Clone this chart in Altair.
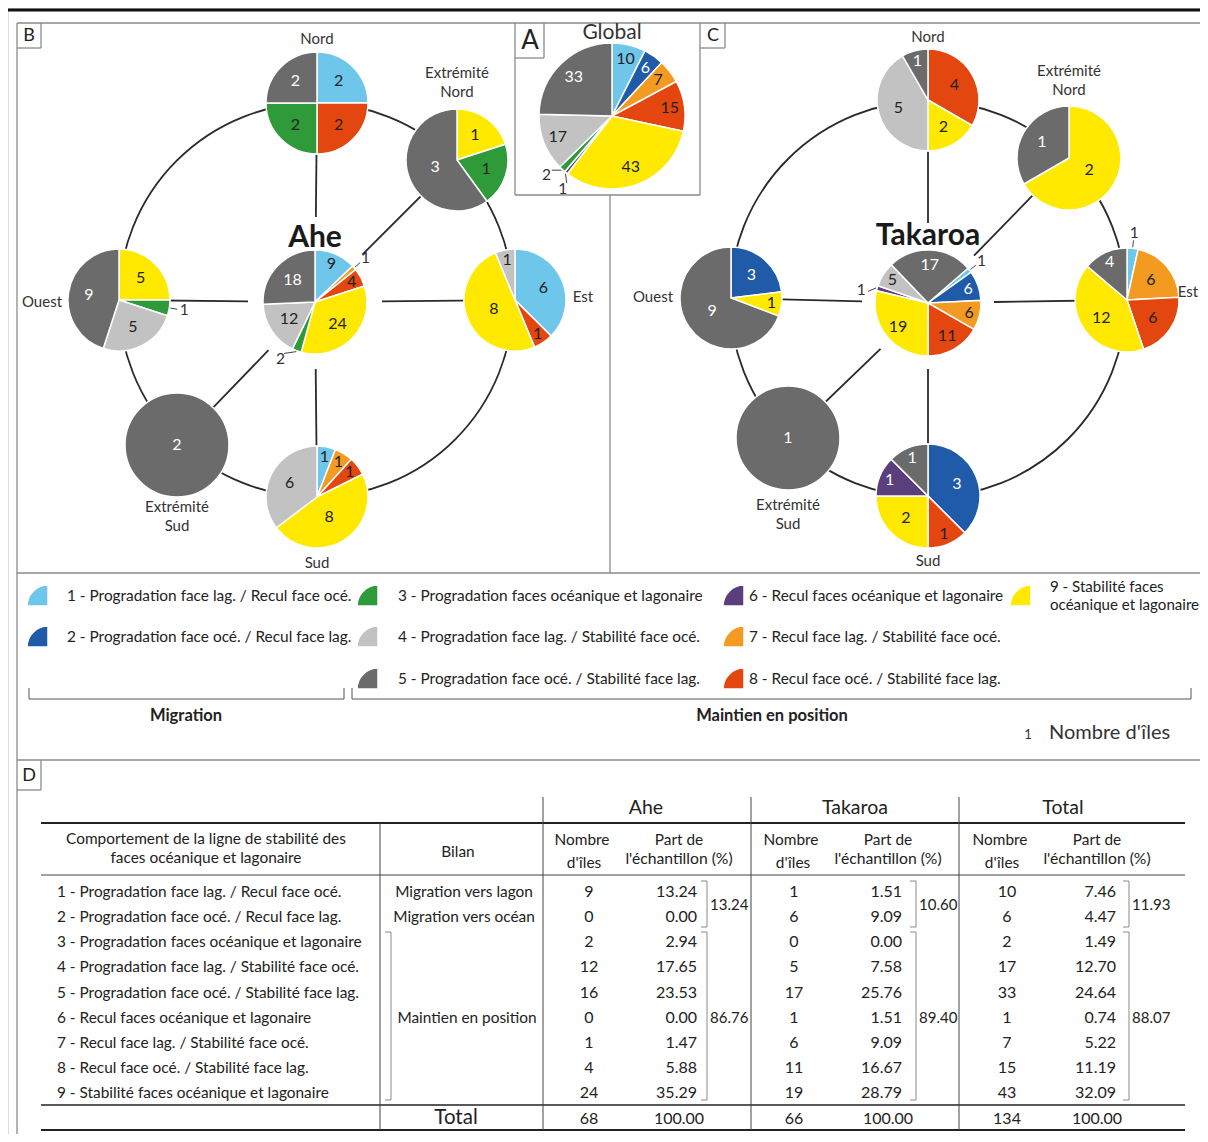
import math
import altair as alt
import pandas as pd

FONT = "Lato"
W, H = 1192, 1126

# ------------------------------------------------------------------ data
CATEGORY_NAMES = [
    "1 - Progradation face lag. / Recul face océ.",
    "2 - Progradation face océ. / Recul face lag.",
    "3 - Progradation faces océanique et lagonaire",
    "4 - Progradation face lag. / Stabilité face océ.",
    "5 - Progradation face océ. / Stabilité face lag.",
    "6 - Recul faces océanique et lagonaire",
    "7 - Recul face lag. / Stabilité face océ.",
    "8 - Recul face océ. / Stabilité face lag.",
    "9 - Stabilité faces océanique et lagonaire",
]
CATEGORY_COLORS = ["#6ec6ea", "#1f5ba8", "#2e9a3a", "#c2c2c2", "#6b6b6b",
                   "#5a3f7c", "#f29b20", "#e3470f", "#ffe900"]
WHITE_TEXT_CATS = {2, 5, 6}

GLOBAL_CATS = [1, 2, 7, 8, 9, 6, 3, 4, 5]
GLOBAL_VALUES = [10, 6, 7, 15, 43, 1, 2, 17, 33]

AHE_CENTRE_CATS = [1, 7, 8, 9, 3, 4, 5]
AHE_CENTRE_VALUES = [9, 1, 4, 24, 2, 12, 18]
AHE_NORD_CATS = [1, 8, 3, 5]
AHE_NORD_VALUES = [2, 2, 2, 2]
AHE_EXTN_CATS = [9, 3, 5]
AHE_EXTN_VALUES = [1, 1, 3]
AHE_EST_CATS = [1, 8, 9, 4]
AHE_EST_VALUES = [6, 1, 8, 1]
AHE_SUD_CATS = [1, 7, 8, 9, 4]
AHE_SUD_VALUES = [1, 1, 1, 8, 6]
AHE_EXTS_CATS = [5]
AHE_EXTS_VALUES = [2]
AHE_OUEST_CATS = [9, 3, 4, 5]
AHE_OUEST_VALUES = [5, 1, 5, 9]

TAK_CENTRE_CATS = [1, 2, 7, 8, 9, 6, 4, 5]
TAK_CENTRE_VALUES = [1, 6, 6, 11, 19, 1, 5, 17]
TAK_NORD_CATS = [8, 9, 4, 5]
TAK_NORD_VALUES = [4, 2, 5, 1]
TAK_EXTN_CATS = [9, 5]
TAK_EXTN_VALUES = [2, 1]
TAK_EST_CATS = [1, 7, 8, 9, 5]
TAK_EST_VALUES = [1, 6, 6, 12, 4]
TAK_SUD_CATS = [2, 8, 9, 6, 5]
TAK_SUD_VALUES = [3, 1, 2, 1, 1]
TAK_EXTS_CATS = [5]
TAK_EXTS_VALUES = [1]
TAK_OUEST_CATS = [2, 9, 5]
TAK_OUEST_VALUES = [3, 1, 9]

PIES = {
    "global": (GLOBAL_CATS, GLOBAL_VALUES),
    "ahe_c": (AHE_CENTRE_CATS, AHE_CENTRE_VALUES),
    "ahe_n": (AHE_NORD_CATS, AHE_NORD_VALUES),
    "ahe_en": (AHE_EXTN_CATS, AHE_EXTN_VALUES),
    "ahe_e": (AHE_EST_CATS, AHE_EST_VALUES),
    "ahe_s": (AHE_SUD_CATS, AHE_SUD_VALUES),
    "ahe_es": (AHE_EXTS_CATS, AHE_EXTS_VALUES),
    "ahe_o": (AHE_OUEST_CATS, AHE_OUEST_VALUES),
    "tak_c": (TAK_CENTRE_CATS, TAK_CENTRE_VALUES),
    "tak_n": (TAK_NORD_CATS, TAK_NORD_VALUES),
    "tak_en": (TAK_EXTN_CATS, TAK_EXTN_VALUES),
    "tak_e": (TAK_EST_CATS, TAK_EST_VALUES),
    "tak_s": (TAK_SUD_CATS, TAK_SUD_VALUES),
    "tak_es": (TAK_EXTS_CATS, TAK_EXTS_VALUES),
    "tak_o": (TAK_OUEST_CATS, TAK_OUEST_VALUES),
}

ATOLLS = ["Ahe", "Takaroa"]
PLACE_NAMES = ["Nord", "Extrémité\nNord", "Est", "Sud", "Extrémité\nSud", "Ouest"]

TABLE_GROUPS = ["Ahe", "Takaroa", "Total"]
BILAN = ["Migration vers lagon", "Migration vers océan", "Maintien en position"]
AHE_N = [9, 0, 2, 12, 16, 0, 1, 4, 24]
AHE_PCT = [13.24, 0.00, 2.94, 17.65, 23.53, 0.00, 1.47, 5.88, 35.29]
AHE_GROUP_PCT = [13.24, 86.76]
TAK_N = [1, 6, 0, 5, 17, 1, 6, 11, 19]
TAK_PCT = [1.51, 9.09, 0.00, 7.58, 25.76, 1.51, 9.09, 16.67, 28.79]
TAK_GROUP_PCT = [10.60, 89.40]
TOT_N = [10, 6, 2, 17, 33, 1, 7, 15, 43]
TOT_PCT = [7.46, 4.47, 1.49, 12.70, 24.64, 0.74, 5.22, 11.19, 32.09]
TOT_GROUP_PCT = [11.93, 88.07]
TOTAL_N = [68, 66, 134]
TOTAL_PCT = [100.00, 100.00, 100.00]

# ------------------------------------------------------------------ layout (page pixels)
PIE_LAYOUT = {  # cx, cy, radius, start angle (deg)
    "global": (612, 116, 73, 0),
    "ahe_c": (315, 302, 52, 0), "ahe_n": (317, 103, 51, 0), "ahe_en": (457, 160, 51, 0),
    "ahe_e": (515, 300, 51, 0), "ahe_s": (317, 497, 51, 0), "ahe_es": (177, 445, 52, 0),
    "ahe_o": (119, 300, 51, 0),
    "tak_c": (928, 303, 53, 49), "tak_n": (928, 100, 51, 0), "tak_en": (1069, 158, 52, 0),
    "tak_e": (1127, 300, 52, 0), "tak_s": (928, 496, 52, 0), "tak_es": (788, 438, 52, 0),
    "tak_o": (731, 298, 51, 0),
}
LABEL_FACTOR = {"global": (0.8, 0.75), "tak_c": (0.8, 0.72)}
OUTSIDE = {("ahe_c", 7): None, ("ahe_c", 3): 211, ("ahe_o", 3): None,
           ("tak_c", 1): None, ("tak_c", 6): 281, ("tak_e", 1): None,
           ("global", 6): 214, ("global", 3): 228}
HUBS = {"Ahe": ("ahe_c", (316, 300), 197, 238,
                [("ahe_n", 85), ("ahe_en", 67), ("ahe_e", 67), ("ahe_s", 67), ("ahe_es", 67), ("ahe_o", 67)]),
        "Takaroa": ("tak_c", (928, 299), 198, 236,
                    [("tak_n", 80), ("tak_en", 66), ("tak_e", 66), ("tak_s", 66), ("tak_es", 66), ("tak_o", 66)])}
PLACE_POS = {
    "Ahe": [(317, 39), (457, 73), (583, 297), (317, 563), (177, 507), (42, 302)],
    "Takaroa": [(928, 37), (1069, 71), (1188, 292), (928, 561), (788, 505), (653, 297)],
}

TXT = 15.4   # body text size
NUM = 16     # numbers in table / pies

XS = alt.Scale(domain=[8, 8 + W], nice=False, zero=False)
YS = alt.Scale(domain=[8, 8 + H], reverse=True, nice=False, zero=False)


def xy(xf="x", yf="y"):
    return dict(x=alt.X(f"{xf}:Q", scale=XS, axis=None),
                y=alt.Y(f"{yf}:Q", scale=YS, axis=None))


def polar(cx, cy, ang, d):
    a = math.radians(ang)
    return cx + d * math.sin(a), cy - d * math.cos(a)


texts = []   # x, y, t, s, c, align, weight
rules = []   # x, y, x2, y2, c, w
arcs = []    # x, y, t0, t1, r, col


def add_text(x, y, t, s=TXT, c="#222222", align="center", weight="normal"):
    texts.append(dict(x=x, y=y, t=str(t), s=s, c=c, align=align, weight=weight))


def add_rule(x, y, x2, y2, c="#8a8a8a", w=1.3):
    rules.append(dict(x=x, y=y, x2=x2, y2=y2, c=c, w=w))


# ---- pies
for pid, (cats, vals) in PIES.items():
    cx, cy, r, start = PIE_LAYOUT[pid]
    total = sum(vals)
    acc = 0
    for cat, v in zip(cats, vals):
        a0 = start + acc / total * 360
        acc += v
        a1 = start + acc / total * 360
        arcs.append(dict(x=cx, y=cy, t0=math.radians(a0), t1=math.radians(a1), r=r,
                         col=CATEGORY_COLORS[cat - 1]))
        span = a1 - a0
        mid = (a0 + a1) / 2
        if (pid, cat) in OUTSIDE:
            ang = OUTSIDE[(pid, cat)]
            ang = mid if ang is None else ang
            p1 = polar(cx, cy, mid, r + 1)
            p2 = polar(cx, cy, ang, r + 8)
            add_rule(p1[0], p1[1], p2[0], p2[1], c="#444444", w=1)
            lx, ly = polar(cx, cy, ang, r + 15)
            add_text(lx, ly, v, s=15.5, c="#333333")
            continue
        if len(vals) == 1:
            f = 0.0
        else:
            small, big = LABEL_FACTOR.get(pid, (0.8, 0.6))
            f = small if span < 50 else (big if span <= 165 else 0.45)
        lx, ly = polar(cx, cy, mid, r * f)
        add_text(lx, ly, v, s=NUM, c="#ffffff" if cat in WHITE_TEXT_CATS else "#222222")

# ---- hubs: big circles, spokes, titles, place names
circles = []
for name, (hub, (hx, hy), R, ty, spokes) in HUBS.items():
    circles.append(dict(x=hx, y=hy, s=(2 * R) ** 2))
    cx, cy = PIE_LAYOUT[hub][:2]
    for target, gap in spokes:
        tx, ty2 = PIE_LAYOUT[target][:2]
        d = math.hypot(tx - cx, ty2 - cy)
        ux, uy = (tx - cx) / d, (ty2 - cy) / d
        add_rule(cx + ux * gap, cy + uy * gap, tx, ty2, c="#2a2a2a", w=1.8)
    add_text(cx, ty, name, s=30, c="#1a1a1a", weight="bold")
    for label, (px, py) in zip(PLACE_NAMES, PLACE_POS[name]):
        for k, line in enumerate(label.split("\n")):
            add_text(px, py + 19 * k, line, s=15, c="#333333")

add_text(612, 33, "Global", s=21, c="#333333")

# ---- panel frames
add_rule(8, 10, 1200, 10, c="#111111", w=3)
add_rule(17, 23, 1202, 23)
add_rule(17, 23, 17, 1134)
add_rule(1202, 23, 1202, 760)
add_rule(515, 23, 515, 195)
add_rule(700, 23, 700, 195)
add_rule(515, 195, 700, 195)
add_rule(544, 23, 544, 58)
add_rule(515, 58, 544, 58)
add_rule(610, 195, 610, 573)
add_rule(41, 23, 41, 48)
add_rule(17, 48, 41, 48)
add_rule(725, 23, 725, 48)
add_rule(700, 48, 725, 48)
add_rule(17, 573, 1202, 573)
add_rule(17, 760, 1202, 760)
add_rule(41, 760, 41, 790)
add_rule(17, 790, 41, 790)
add_text(29, 36, "B", s=18, c="#222222")
add_text(530, 41, "A", s=26, c="#222222")
add_text(713, 36, "C", s=18, c="#222222")
add_text(29, 776, "D", s=18, c="#222222")

# ---- legend
LEGEND_SLOTS = {1: (0, 0), 2: (0, 1), 3: (1, 0), 4: (1, 1), 5: (1, 2),
                6: (2, 0), 7: (2, 1), 8: (2, 2), 9: (3, 0)}
SW_X = [48, 378, 744, 1031]
TX_X = [67, 398, 749, 1050]
ROW_Y = [596, 637, 679]
for cat, (col, row) in LEGEND_SLOTS.items():
    y = ROW_Y[row]
    arcs.append(dict(x=SW_X[col], y=y + 10, t0=1.5 * math.pi, t1=2 * math.pi, r=21,
                     col=CATEGORY_COLORS[cat - 1]))
    name = CATEGORY_NAMES[cat - 1]
    if cat == 9:
        words = name.split(" ")
        add_text(TX_X[col], y - 9, " ".join(words[:4]), s=15.1, align="left")
        add_text(TX_X[col], y + 9, " ".join(words[4:]), s=15.1, align="left")
    else:
        add_text(TX_X[col], y, name, align="left")

for x0, x1 in [(29, 344), (352, 1191)]:
    add_rule(x0, 699, x1, 699, c="#555555", w=1)
    add_rule(x0, 688, x0, 699, c="#555555", w=1)
    add_rule(x1, 688, x1, 699, c="#555555", w=1)
add_text(186, 716, "Migration", s=16.5, weight="bold")
add_text(772, 716, "Maintien en position", s=16.5, weight="bold")
add_text(1028, 735, "1", s=13, c="#333333")
add_text(1049, 733, "Nombre d'îles", s=20, c="#333333", align="left")

# ---- table
TL, TR = 41, 1185
ROWS_Y = [892 + 25.15 * i for i in range(9)]
add_rule(TL, 823, TR, 823, c="#222222", w=2.2)
add_rule(TL, 875, TR, 875, c="#444444", w=1)
add_rule(TL, 1105, TR, 1105, c="#222222", w=1.3)
add_rule(TL, 1130, TR, 1130, c="#222222", w=2.2)
add_rule(380, 823, 380, 1130, c="#444444", w=1)
for vx in [543, 751, 959]:
    add_rule(vx, 797, vx, 1130, c="#444444", w=1)

add_text(206, 839, "Comportement de la ligne de stabilité des")
add_text(206, 858, "faces océanique et lagonaire")
add_text(458, 852, "Bilan")
GROUP_X = [(646, 582, 589, 679, 697, 707), (855, 791, 794, 888, 902, 916), (1063, 1000, 1007, 1097, 1116, 1129)]
GROUP_N = [AHE_N, TAK_N, TOT_N]
GROUP_PCT = [AHE_PCT, TAK_PCT, TOT_PCT]
GROUP_SUB = [AHE_GROUP_PCT, TAK_GROUP_PCT, TOT_GROUP_PCT]
for g, (gx, nhx, nx, phx, px, bx) in enumerate(GROUP_X):
    add_text(gx, 808, TABLE_GROUPS[g], s=19.5)
    add_text(nhx, 840, "Nombre")
    add_text(nhx + 2, 863, "d'îles")
    add_text(phx, 840, "Part de")
    add_text(phx, 859, "l'échantillon (%)", s=15.7)
    for i in range(9):
        add_text(nx, ROWS_Y[i], GROUP_N[g][i], s=NUM)
        add_text(px, ROWS_Y[i], f"{GROUP_PCT[g][i]:.2f}", s=NUM, align="right")
    for (top, bot, ly), val in zip([(881, 927, (ROWS_Y[0] + ROWS_Y[1]) / 2), (932, 1100, ROWS_Y[5])],
                                   GROUP_SUB[g]):
        add_rule(bx, top, bx, bot, c="#8a8a8a", w=1)
        add_rule(bx - 6, top, bx, top, c="#8a8a8a", w=1)
        add_rule(bx - 6, bot, bx, bot, c="#8a8a8a", w=1)
        add_text(bx + 3, ly, f"{val:.2f}", s=15, align="left")
    add_text(nx, 1119, TOTAL_N[g], s=NUM)
    add_text(phx, 1119, f"{TOTAL_PCT[g]:.2f}", s=NUM)

for i, name in enumerate(CATEGORY_NAMES):
    add_text(57, ROWS_Y[i], name, align="left")
add_text(464, ROWS_Y[0], BILAN[0])
add_text(464, ROWS_Y[1], BILAN[1])
add_text(467, ROWS_Y[5], BILAN[2])
add_rule(391, 932, 391, 1100, c="#8a8a8a", w=1)
add_rule(385, 932, 391, 932, c="#8a8a8a", w=1)
add_rule(385, 1100, 391, 1100, c="#8a8a8a", w=1)
add_text(456, 1118, "Total", s=20.5)

# ------------------------------------------------------------------ chart
rules_df = pd.DataFrame(rules)
arcs_df = pd.DataFrame(arcs)
texts_df = pd.DataFrame(texts)
circles_df = pd.DataFrame(circles)

big_circles = alt.Chart(circles_df).mark_point(
    shape="circle", filled=False, opacity=1, color="#2a2a2a", strokeWidth=1.8
).encode(**xy(), size=alt.Size("s:Q", scale=None))

rule_layer = alt.Chart(rules_df).mark_rule().encode(
    **xy(), x2="x2:Q", y2="y2:Q",
    color=alt.Color("c:N", scale=None),
    strokeWidth=alt.StrokeWidth("w:Q", scale=None),
)

arc_layer = alt.Chart(arcs_df).mark_arc(stroke="white", strokeWidth=1.5).encode(
    **xy(),
    theta=alt.Theta("t0:Q", scale=None, stack=None),
    theta2="t1:Q",
    radius=alt.Radius("r:Q", scale=None),
    color=alt.Color("col:N", scale=None),
)

text_layers = []
for (align, weight), sub in texts_df.groupby(["align", "weight"]):
    text_layers.append(
        alt.Chart(sub).mark_text(align=align, baseline="middle", font=FONT, fontWeight=weight).encode(
            **xy(), text=alt.Text("t:N"),
            size=alt.Size("s:Q", scale=None),
            color=alt.Color("c:N", scale=None),
        )
    )

chart = alt.layer(big_circles, rule_layer, arc_layer, *text_layers).properties(
    width=W, height=H, padding=0, autosize=alt.AutoSizeParams(type="none")
).configure_view(stroke=None).configure(background="white")

chart.save("out.html", embed_options={"renderer": "svg", "actions": False})
